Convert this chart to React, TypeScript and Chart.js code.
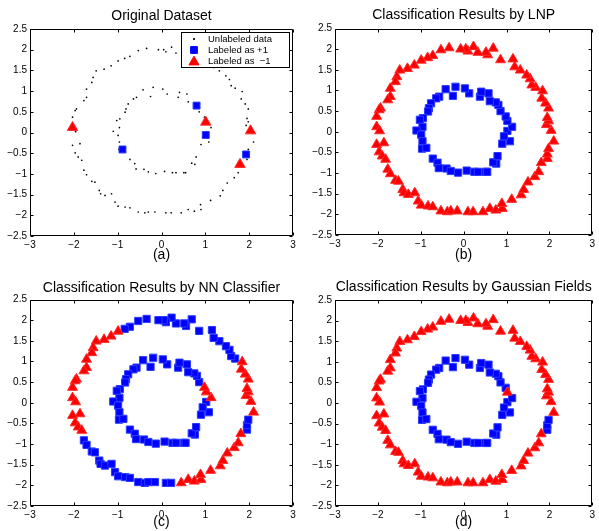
import React, { useEffect, useRef } from 'react';
import { Chart, registerables } from 'chart.js';

Chart.register(...registerables);

const FONT = "'Liberation Sans', Arial, Helvetica, sans-serif";

// ---------- data ----------
const xTickValues = [-3, -2, -1, 0, 1, 2, 3];
const yTickValues = [-2.5, -2, -1.5, -1, -0.5, 0, 0.5, 1, 1.5, 2, 2.5];

// outer ring (radius ~2), ordered counter-clockwise from angle 0
const outerX = [2.04, 1.93, 1.98, 1.95, 1.98, 1.91, 1.82, 1.84, 1.68, 1.59,
  1.55, 1.47, 1.32, 1.19, 1.15, 0.86, 0.69, 0.56, 0.52, 0.33,
  0.23, 0.10, 0.05, -0.07, -0.34, -0.53, -0.72, -0.84, -0.99, -1.15,
  -1.31, -1.49, -1.56, -1.59, -1.71, -1.71, -1.77, -1.94, -1.97, -2.03,
  -2.03, -1.96, -1.86, -2.03, -1.97, -1.90, -1.82, -1.77, -1.71, -1.59,
  -1.52, -1.42, -1.39, -1.29, -1.14, -1.06, -0.99, -0.83, -0.72, -0.53,
  -0.38, -0.30, -0.15, 0.10, 0.22, 0.45, 0.61, 0.75, 0.90, 0.89,
  1.12, 1.34, 1.40, 1.50, 1.66, 1.75, 1.81, 1.95, 1.95, 1.98,
  2.10];
const outerY = [0.03, 0.17, 0.26, 0.34, 0.57, 0.69, 0.81, 0.99, 1.07, 1.13,
  1.28, 1.37, 1.49, 1.57, 1.76, 1.74, 2.02, 1.86, 1.92, 1.92,
  2.06, 1.95, 2.00, 2.00, 2.03, 1.98, 1.84, 1.79, 1.73, 1.61,
  1.53, 1.49, 1.33, 1.21, 1.05, 0.85, 0.77, 0.57, 0.53, 0.37,
  0.12, 0.02, -0.27, -0.31, -0.49, -0.59, -0.67, -0.91, -1.02, -1.18,
  -1.20, -1.40, -1.48, -1.52, -1.48, -1.68, -1.78, -1.80, -1.82, -1.92,
  -1.94, -1.92, -1.92, -1.94, -1.94, -1.94, -1.86, -1.90, -1.86, -1.74,
  -1.64, -1.53, -1.40, -1.22, -1.09, -0.97, -0.75, -0.65, -0.54, -0.41,
  -0.23];

// inner ring (radius ~1)
const innerX = [1.02, 1.13, 1.02, 0.98, 0.86, 0.81, 0.75, 0.61, 0.58, 0.38,
  0.41, 0.13, 0.03, -0.19, -0.25, -0.42, -0.57, -0.64, -0.76, -0.81,
  -0.83, -0.95, -1.02, -0.96, -1.10, -0.99, -0.96, -0.97, -0.87, -0.72,
  -0.61, -0.58, -0.40, -0.30, -0.13, 0.07, 0.25, 0.33, 0.51, 0.55,
  0.76, 0.69, 0.79, 0.90, 1.08, 0.94];
const innerY = [0.02, 0.12, 0.26, 0.37, 0.50, 0.65, 0.71, 0.74, 0.93, 0.85,
  0.97, 0.93, 1.05, 1.09, 0.87, 1.03, 0.85, 0.81, 0.69, 0.57,
  0.49, 0.33, 0.29, 0.12, 0.03, -0.07, -0.23, -0.41, -0.39, -0.65,
  -0.75, -0.88, -0.89, -0.95, -0.99, -0.94, -0.97, -0.97, -0.97, -0.97,
  -0.77, -0.74, -0.59, -0.29, -0.23, -0.11];

// labeled points in the original dataset
const labeledPosX = [0.80, 1.01, -0.89, 1.93];
const labeledPosY = [0.65, -0.06, -0.41, -0.53];
const labeledNegX = [-2.03, 1.01, 2.03, 1.79];
const labeledNegY = [0.12, 0.25, 0.04, -0.77];

// classification results: outer-ring index ranges labeled +1, inner-ring indices labeled -1
const lnpOuterPosRanges: number[][] = [];
const lnpInnerNeg: number[] = [];
const nnOuterPosRanges = [[8, 27], [47, 64], [77, 79]];
const nnInnerNeg = [1, 2, 3];
const gfOuterPosRanges = [[77, 79]];
const gfInnerNeg = [2];

const legendLabels = ['Unlabeled data', 'Labeled as +1', 'Labeled as  \u22121'];

// ---------- helpers ----------
const BLUE = '#0000ff';
const RED = '#ff0000';

function pts(xs: number[], ys: number[]) {
  return xs.map((x, i) => ({ x, y: ys[i] }));
}

function classify(outerPosRanges: number[][], innerNeg: number[]) {
  const pos: { x: number; y: number }[] = [];
  const neg: { x: number; y: number }[] = [];
  outerX.forEach((x, i) => {
    const isPos = outerPosRanges.some(([a, b]) => i >= a && i <= b);
    (isPos ? pos : neg).push({ x, y: outerY[i] });
  });
  innerX.forEach((x, i) => {
    const isNeg = innerNeg.includes(i);
    (isNeg ? neg : pos).push({ x, y: innerY[i] });
  });
  return { pos, neg };
}

function fmt(v: number) {
  return String(v).replace('-', '\u2212');
}

const framePlugin = {
  id: 'matlabFrame',
  afterDraw(chart: any) {
    const { ctx, chartArea: a, scales } = chart;
    const L = Math.round(a.left) + 0.5;
    const R = Math.round(a.right) - 0.5;
    const T = Math.round(a.top) + 0.5;
    const B = Math.round(a.bottom) - 0.5;
    const tl = 3;
    ctx.save();
    ctx.strokeStyle = '#000';
    ctx.lineWidth = 1;
    ctx.beginPath();
    ctx.rect(L, T, R - L, B - T);
    xTickValues.forEach((v) => {
      const px = Math.round(scales.x.getPixelForValue(v)) + 0.5;
      ctx.moveTo(px, B); ctx.lineTo(px, B - tl);
      ctx.moveTo(px, T); ctx.lineTo(px, T + tl);
    });
    yTickValues.forEach((v) => {
      const py = Math.round(scales.y.getPixelForValue(v)) + 0.5;
      ctx.moveTo(L, py); ctx.lineTo(L + tl, py);
      ctx.moveTo(R, py); ctx.lineTo(R - tl, py);
    });
    ctx.stroke();
    ctx.restore();
  },
};

function drawMarker(ctx: CanvasRenderingContext2D, style: string, x: number, y: number, r: number, color: string) {
  ctx.fillStyle = color;
  ctx.strokeStyle = color;
  ctx.lineWidth = 1;
  ctx.beginPath();
  if (style === 'rect') {
    const s = r * Math.SQRT1_2;
    ctx.rect(x - s, y - s, 2 * s, 2 * s);
  } else if (style === 'triangle') {
    const w = r * Math.sin(Math.PI / 3);
    ctx.moveTo(x, y - r);
    ctx.lineTo(x + w, y + r / 2);
    ctx.lineTo(x - w, y + r / 2);
    ctx.closePath();
  } else {
    ctx.arc(x, y, r, 0, Math.PI * 2);
  }
  ctx.fill();
  ctx.stroke();
}

const boxLegendPlugin = {
  id: 'boxLegend',
  afterDraw(chart: any, _args: any, opts: any) {
    if (!opts || !opts.show) return;
    const { ctx } = chart;
    const { x, y, w, h, rowH, markerX, textX } = opts;
    ctx.save();
    ctx.fillStyle = '#fff';
    ctx.fillRect(x, y, w, h);
    ctx.strokeStyle = '#000';
    ctx.lineWidth = 1;
    ctx.strokeRect(x + 0.5, y + 0.5, w, h);
    const items = [
      { style: 'circle', r: 0.7, color: '#000' },
      { style: 'rect', r: 4.8, color: BLUE },
      { style: 'triangle', r: 5.8, color: RED },
    ];
    items.forEach((it, i) => {
      const cy = y + 7 + rowH * i;
      drawMarker(ctx, it.style, x + markerX, cy + (it.style === 'triangle' ? 1 : 0), it.r, it.color);
      ctx.fillStyle = '#000';
      ctx.font = `9.5px ${FONT}`;
      ctx.textBaseline = 'middle';
      ctx.textAlign = 'left';
      ctx.fillText(chart.data.datasets[i].label ?? legendLabels[i], x + textX, cy);
    });
    ctx.restore();
  },
};

type Panel = {
  width: number; height: number;
  plotLeft: number; plotRight: number; plotTop: number; plotBottom: number;
  titleY: number; captionY: number;
  title: string; caption: string;
};

function makeConfig(p: Panel, datasets: any[], legend: boolean): any {
  const titleSize = 14;
  const titleLH = titleSize * 1.2;
  const padTop = p.titleY - titleLH / 2;
  const padBottom = Math.max(0, p.plotTop - titleLH - padTop);
  const capSize = 14;
  const capLH = capSize * 1.2;
  const capPad = Math.max(0, p.height - p.captionY - capLH / 2);
  const tickFont = { family: FONT, size: 10 };
  return {
    type: 'scatter',
    data: { datasets },
    options: {
      responsive: false,
      animation: false,
      events: [],
      layout: { padding: { left: 0, right: p.width - p.plotRight, top: 0, bottom: 0 } },
      plugins: {
        legend: { display: false },
        tooltip: { enabled: false },
        title: {
          display: true,
          text: p.title,
          fullSize: false,
          color: '#000',
          font: { family: FONT, size: titleSize, weight: 'normal' },
          padding: { top: padTop, bottom: padBottom },
        },
        boxLegend: legend
          ? { show: true, x: 181, y: 32, w: 108, h: 35, rowH: 11, markerX: 13, textX: 27 }
          : { show: false },
      },
      scales: {
        x: {
          type: 'linear',
          min: -3,
          max: 3,
          afterBuildTicks: (s: any) => { s.ticks = xTickValues.map((v) => ({ value: v })); },
          afterFit: (s: any) => { s.height = p.height - p.plotBottom; s.paddingLeft = 0; s.paddingRight = 0; },
          grid: { display: false, drawTicks: false },
          border: { display: false },
          ticks: { font: tickFont, color: '#000', padding: 3, maxRotation: 0, autoSkip: false, callback: (v: number) => fmt(v) },
          title: {
            display: true,
            text: p.caption,
            color: '#000',
            font: { family: FONT, size: capSize },
            padding: { top: 0, bottom: capPad },
          },
        },
        y: {
          type: 'linear',
          min: -2.5,
          max: 2.5,
          afterBuildTicks: (s: any) => { s.ticks = yTickValues.map((v) => ({ value: v })); },
          afterFit: (s: any) => { s.width = p.plotLeft; s.paddingTop = 0; s.paddingBottom = 0; },
          grid: { display: false, drawTicks: false },
          border: { display: false },
          ticks: { font: tickFont, color: '#000', padding: 3, autoSkip: false, callback: (v: number) => fmt(v) },
        },
      },
    },
    plugins: [framePlugin, boxLegendPlugin],
  };
}

function posSet(label: string, data: any[], r = 5.1) {
  return {
    label, data, pointStyle: 'rect', pointRadius: r, pointHoverRadius: r,
    pointBackgroundColor: BLUE, pointBorderColor: '#2a3cff', pointBorderWidth: 1, showLine: false,
  };
}
function negSet(label: string, data: any[], r = 5.7) {
  return {
    label, data, pointStyle: 'triangle', pointRadius: r, pointHoverRadius: r,
    pointBackgroundColor: RED, pointBorderColor: '#ff2a2a', pointBorderWidth: 1, showLine: false,
  };
}

const panels: (Panel & { left: number; top: number })[] = [
  { left: 0, top: 0, width: 300, height: 265, plotLeft: 30, plotRight: 293, plotTop: 29, plotBottom: 236, titleY: 16.5, captionY: 255, title: 'Original Dataset', caption: '(a)' },
  { left: 300, top: 0, width: 299, height: 265, plotLeft: 35, plotRight: 298, plotTop: 28.5, plotBottom: 235, titleY: 15, captionY: 255, title: 'Classification Results by LNP', caption: '(b)' },
  { left: 0, top: 265, width: 300, height: 266, plotLeft: 30, plotRight: 293, plotTop: 34.5, plotBottom: 241, titleY: 23, captionY: 258, title: 'Classification Results by NN Classifier', caption: '(c)' },
  { left: 300, top: 265, width: 299, height: 266, plotLeft: 35, plotRight: 298, plotTop: 35, plotBottom: 241, titleY: 22.5, captionY: 258, title: 'Classification Results by Gaussian Fields', caption: '(d)' },
];

export default function App() {
  const refs = [useRef<HTMLCanvasElement>(null), useRef<HTMLCanvasElement>(null), useRef<HTMLCanvasElement>(null), useRef<HTMLCanvasElement>(null)];

  useEffect(() => {
    const all = [...pts(outerX, outerY), ...pts(innerX, innerY)];
    const lnp = classify(lnpOuterPosRanges, lnpInnerNeg);
    const nn = classify(nnOuterPosRanges, nnInnerNeg);
    const gf = classify(gfOuterPosRanges, gfInnerNeg);

    const dsA = [
      { label: legendLabels[0], data: all, pointStyle: 'circle', pointRadius: 0.85, pointHoverRadius: 0.85, pointBackgroundColor: '#000', pointBorderWidth: 0, showLine: false, order: 3 },
      { ...posSet(legendLabels[1], pts(labeledPosX, labeledPosY), 4.9), order: 2 },
      { ...negSet(legendLabels[2], pts(labeledNegX, labeledNegY), 6), order: 1 },
    ];
    const mk = (r: { pos: any[]; neg: any[] }) => [negSet('\u22121', r.neg), posSet('+1', r.pos)];

    const configs = [
      makeConfig(panels[0], dsA, true),
      makeConfig(panels[1], mk(lnp), false),
      makeConfig(panels[2], mk(nn), false),
      makeConfig(panels[3], mk(gf), false),
    ];
    const charts = configs.map((c, i) => new Chart(refs[i].current as HTMLCanvasElement, c));
    return () => charts.forEach((c) => c.destroy());
  }, []);

  return (
    <div style={{ position: 'absolute', left: 0, top: 0, width: 599, height: 531, background: '#fff', overflow: 'hidden' }}>
      {panels.map((p, i) => (
        <canvas
          key={i}
          ref={refs[i]}
          width={p.width}
          height={p.height}
          style={{ position: 'absolute', left: p.left, top: p.top, width: p.width, height: p.height }}
        />
      ))}
    </div>
  );
}
